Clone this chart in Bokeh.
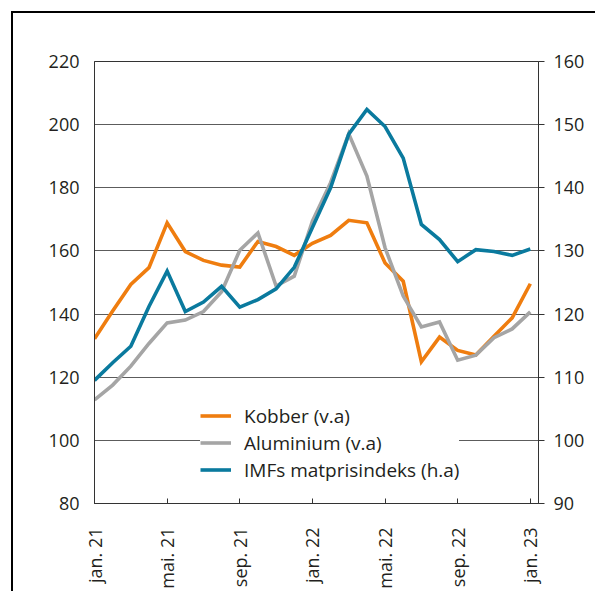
from bokeh.plotting import figure
from bokeh.models import Range1d, LinearAxis, FixedTicker, Legend, LegendItem
from bokeh.embed import file_html
from bokeh.resources import INLINE

# --- data -------------------------------------------------------------
months = ["jan. 21", "feb. 21", "mar. 21", "apr. 21", "mai. 21", "jun. 21",
          "jul. 21", "aug. 21", "sep. 21", "okt. 21", "nov. 21", "des. 21",
          "jan. 22", "feb. 22", "mar. 22", "apr. 22", "mai. 22", "jun. 22",
          "jul. 22", "aug. 22", "sep. 22", "okt. 22", "nov. 22", "des. 22",
          "jan. 23"]
tick_months = ["jan. 21", "mai. 21", "sep. 21", "jan. 22", "mai. 22", "sep. 22", "jan. 23"]

kobber = [132.2, 141.0, 149.4, 154.7, 168.9, 159.8, 157.0, 155.5, 154.9, 163.0,
          161.4, 158.6, 162.4, 164.9, 169.7, 168.9, 156.2, 150.4, 124.9, 132.7,
          128.5, 127.0, 133.0, 138.8, 149.6]
aluminium = [112.8, 117.5, 123.5, 130.7, 137.2, 138.1, 140.8, 147.1, 160.2, 165.7,
             148.9, 152.0, 169.4, 181.6, 197.1, 183.7, 161.0, 145.7, 135.9, 137.5,
             125.4, 127.0, 132.5, 135.3, 140.7]
imf = [109.5, 112.3, 114.9, 121.2, 126.8, 120.4, 121.9, 124.4, 121.1, 122.3,
       124.0, 127.4, 133.7, 140.0, 148.5, 152.4, 149.7, 144.7, 134.2, 131.8,
       128.3, 130.2, 129.9, 129.3, 130.3]

left_ticks = [80, 100, 120, 140, 160, 180, 200, 220]
right_ticks = [90, 100, 110, 120, 130, 140, 150, 160]
series_names = ["Kobber (v.a)", "Aluminium (v.a)", "IMFs matprisindeks (h.a)"]

# --- styling ----------------------------------------------------------
FONT = "Open Sans"
TXT = "#231f20"
C_ORANGE = "#ef7d0f"
C_GRAY = "#a5a5a5"
C_BLUE = "#0a7a9e"

x = list(range(len(months)))
tick_pos = [months.index(m) for m in tick_months]

p = figure(width=584, height=580, output_backend="svg", toolbar_location=None,
           x_range=Range1d(0, 24.45), y_range=Range1d(left_ticks[0], left_ticks[-1]),
           min_border_left=81, min_border_right=59, min_border_top=48, min_border_bottom=90,
           y_axis_location=None,
           styles={"margin-left": "11px", "margin-top": "11px",
                   "border-left": "2px solid #000", "border-top": "2px solid #000"})
p.extra_y_ranges = {"right": Range1d(right_ticks[0], right_ticks[-1])}
p.background_fill_color = "white"
p.border_fill_color = "white"
p.outline_line_color = "#333333"
p.outline_line_width = 1

# x axis
xa = p.xaxis[0]
xa.ticker = FixedTicker(ticks=tick_pos)
xa.major_label_overrides = {i: m for i, m in zip(tick_pos, tick_months)}
xa.major_label_orientation = 3.14159265 / 2
xa.major_tick_in = 5
xa.major_tick_out = 0
xa.minor_tick_line_color = None
xa.axis_line_color = "#333333"
xa.major_tick_line_color = "#333333"
xa.major_label_text_font = FONT
xa.major_label_text_font_size = "18px"
xa.major_label_text_color = TXT
xa.major_label_standoff = 24

# left axis
la = LinearAxis(ticker=FixedTicker(ticks=left_ticks))
la.major_tick_in = 0
la.major_tick_out = 0
la.minor_tick_line_color = None
la.axis_line_color = "#333333"
la.major_label_text_font = FONT
la.major_label_text_font_size = "18px"
la.major_label_text_color = TXT
la.major_label_standoff = 15
p.add_layout(la, "left")

# right axis
ra = LinearAxis(y_range_name="right", ticker=FixedTicker(ticks=right_ticks))
ra.major_tick_in = 0
ra.major_tick_out = 6
ra.minor_tick_line_color = None
ra.axis_line_color = "#333333"
ra.major_tick_line_color = "#333333"
ra.major_label_text_font = FONT
ra.major_label_text_font_size = "18px"
ra.major_label_text_color = TXT
ra.major_label_standoff = 9
p.add_layout(ra, "right")

p.xgrid.grid_line_color = None
p.ygrid.ticker = FixedTicker(ticks=left_ticks)
p.ygrid.grid_line_color = "#5c5c5c"
p.ygrid.grid_line_width = 1.2

r1 = p.line(x, kobber, line_color=C_ORANGE, line_width=3.6, line_join="miter")
r2 = p.line(x, aluminium, line_color=C_GRAY, line_width=3.6, line_join="miter")
r3 = p.line(x, imf, line_color=C_BLUE, line_width=3.6, line_join="miter", y_range_name="right")

legend = Legend(items=[LegendItem(label=series_names[0], renderers=[r1]),
                       LegendItem(label=series_names[1], renderers=[r2]),
                       LegendItem(label=series_names[2], renderers=[r3])],
                location=(106, 20), orientation="vertical")
legend.glyph_width = 31
legend.glyph_height = 27
legend.label_height = 27
legend.spacing = 0
legend.padding = 12
legend.margin = 0
legend.label_standoff = 13
legend.label_text_font = FONT
legend.label_text_font_size = "19px"
legend.label_text_color = TXT
legend.border_line_color = None
legend.background_fill_color = "white"
legend.background_fill_alpha = 1.0
p.add_layout(legend, "center")

open("out.html", "w").write(file_html(p, INLINE))
